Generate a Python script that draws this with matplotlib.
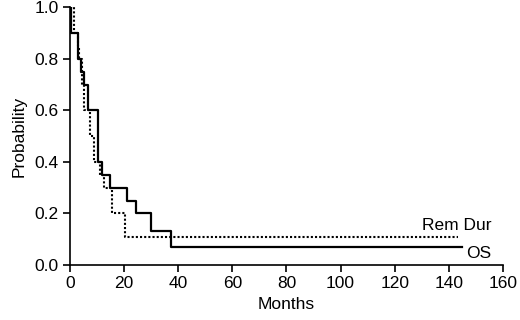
import matplotlib
matplotlib.use("Agg")
import matplotlib.pyplot as plt

# overall survival (OS), step curve
os_months = [0, 0.5, 3.0, 4.0, 5.3, 6.5, 10.3, 11.8, 14.8, 21.0, 24.5, 30.0, 37.5, 145]
os_prob = [1.0, 0.90, 0.80, 0.75, 0.70, 0.60, 0.40, 0.35, 0.30, 0.25, 0.20, 0.133, 0.07, 0.07]

# remission duration (Rem Dur), step curve
rd_months = [0, 1.6, 2.8, 3.5, 4.3, 5.3, 7.4, 8.8, 11.0, 12.6, 15.4, 20.3, 143.5]
rd_prob = [1.0, 0.90, 0.85, 0.80, 0.70, 0.60, 0.50, 0.40, 0.35, 0.30, 0.20, 0.107, 0.107]

plt.rcParams['font.family'] = ['Liberation Sans', 'DejaVu Sans']

fig = plt.figure(figsize=(5.2, 3.2), dpi=100)
ax = fig.add_axes([0.1346, 0.172, 0.8327, 0.8047])

ax.step(os_months, os_prob, where='post', color='black', linewidth=1.6)
ax.step(rd_months, rd_prob, where='post', color='black', linewidth=1.5, linestyle=(0, (1, 1)))

ax.text(155.8, 0.155, "Rem Dur", ha='right', va='center', fontsize=12.5)
ax.text(155.8, 0.045, "OS", ha='right', va='center', fontsize=12.5)

ax.set_xlim(0, 160)
ax.set_ylim(0, 1.0)
ax.set_xticks(range(0, 161, 20))
ax.set_yticks([0.0, 0.2, 0.4, 0.6, 0.8, 1.0])
ax.set_yticklabels(["0.0", "0.2", "0.4", "0.6", "0.8", "1.0"])
ax.tick_params(labelsize=12.5, length=5, width=1.2, pad=3, direction='out', colors='black')
ax.spines['top'].set_visible(False)
ax.spines['right'].set_visible(False)
ax.spines['left'].set_linewidth(1.2)
ax.spines['bottom'].set_linewidth(1.2)
ax.set_xlabel("Months", fontsize=12.5, labelpad=4)
ax.set_ylabel("Probability", fontsize=12.5, labelpad=6)
for s in ['left', 'bottom']:
    ax.spines[s].set_clip_on(False)

fig.savefig("out.png", dpi=100)
